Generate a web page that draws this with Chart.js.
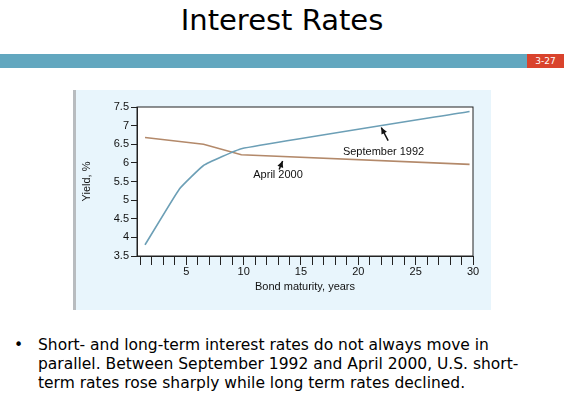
<!DOCTYPE html>
<html><head><meta charset="utf-8">
<script src="https://cdn.jsdelivr.net/npm/chart.js@4"></script>
<style>
body{margin:0;width:564px;height:406px;background:#fff;position:relative;overflow:hidden;font-family:"DejaVu Sans",sans-serif}
#title{position:absolute;top:3px;left:0;width:564px;text-align:center;font-size:29px;color:#000}
#bar{position:absolute;top:54px;left:0;width:527px;height:14px;background:#62a7bf}
#num{position:absolute;top:54px;left:527px;width:37px;height:14px;background:#d9432c;color:#fff;font-size:9px;text-align:center;line-height:14px}
#panel{position:absolute;left:73px;top:90px;width:415px;height:220px;background:#e8f5fc;border-left:3px solid #b8bcbf}
#bullet{position:absolute;left:14px;top:336px;width:530px;font-size:15.5px;line-height:19px;color:#000}
#bullet span{position:absolute;left:0}
#bullet div{margin-left:24px}
</style></head><body>
<div id="title">Interest Rates</div>
<div id="bar"></div><div id="num">3-27</div>
<div id="panel"><canvas id="c" width="415" height="220"></canvas></div>
<div id="bullet"><span>•</span><div>Short- and long-term interest rates do not always move in parallel. Between September 1992 and April 2000, U.S. short-term rates rose sharply while long term rates declined.</div></div>
<script>
var maturity = [1.4, 4.4, 6.5, 9.8, 29.7];
var sep1992 = [3.8, 5.3, 5.93, 6.38, 7.38];
var aprMaturity = [1.4, 6.5, 9.8, 29.7];
var apr2000 = [6.68, 6.5, 6.22, 5.96];
var xTickLabels = [5, 10, 15, 20, 25, 30];

var notes = [
  {text: "September 1992", tx: 22.2, ty: 6.3, from: [22.6, 6.6], to: [22.0, 6.95]},
  {text: "April 2000", tx: 13.0, ty: 5.67, from: [13.1, 5.82], to: [13.4, 6.05]}
];

var annotate = {
  id: "annotate",
  afterDatasetsDraw: function (chart) {
    var ctx = chart.ctx, xs = chart.scales.x, ys = chart.scales.y;
    ctx.save();
    ctx.fillStyle = "#111"; ctx.strokeStyle = "#111";
    ctx.font = "11px 'Liberation Sans', Arial";
    ctx.textAlign = "center"; ctx.textBaseline = "middle";
    notes.forEach(function (n) {
      ctx.fillText(n.text, xs.getPixelForValue(n.tx), ys.getPixelForValue(n.ty));
      var x1 = xs.getPixelForValue(n.from[0]), y1 = ys.getPixelForValue(n.from[1]);
      var x2 = xs.getPixelForValue(n.to[0]), y2 = ys.getPixelForValue(n.to[1]);
      ctx.lineWidth = 1.5;
      ctx.beginPath(); ctx.moveTo(x1, y1); ctx.lineTo(x2, y2); ctx.stroke();
      var a = Math.atan2(y2 - y1, x2 - x1);
      ctx.beginPath();
      ctx.moveTo(x2, y2);
      ctx.lineTo(x2 - 7 * Math.cos(a - 0.45), y2 - 7 * Math.sin(a - 0.45));
      ctx.lineTo(x2 - 7 * Math.cos(a + 0.45), y2 - 7 * Math.sin(a + 0.45));
      ctx.closePath(); ctx.fill();
    });
    var ca = chart.chartArea;
    ctx.lineWidth = 1; ctx.strokeStyle = "#222";
    ctx.strokeRect(ca.left, ca.top, ca.right - ca.left, ca.bottom - ca.top);
    ctx.restore();
  },
  beforeDraw: function (chart) {
    var ca = chart.chartArea, ctx = chart.ctx;
    ctx.save(); ctx.fillStyle = "#fff";
    ctx.fillRect(ca.left, ca.top, ca.right - ca.left, ca.bottom - ca.top);
    ctx.restore();
  }
};

var tickFont = {family: "'Liberation Sans', Arial", size: 11};

new Chart(document.getElementById("c"), {
  type: "line",
  data: {
    datasets: [
      {label: "September 1992", data: maturity.map(function (m, i) { return {x: m, y: sep1992[i]}; }),
       borderColor: "#6c9fb6", borderWidth: 1.6, pointRadius: 0, tension: 0.1},
      {label: "April 2000", data: aprMaturity.map(function (m, i) { return {x: m, y: apr2000[i]}; }),
       borderColor: "#b3896a", borderWidth: 1.6, pointRadius: 0, tension: 0}
    ]
  },
  options: {
    responsive: false, animation: false,
    layout: {padding: {top: 17, right: 18, bottom: 12}},
    plugins: {legend: {display: false}, tooltip: {enabled: false}},
    scales: {
      x: {
        type: "linear", min: 0.7, max: 30,
        afterFit: function (s) { s.height = 42; },
        afterBuildTicks: function (s) {
          var t = [];
          for (var v = 1; v <= 30; v++) t.push({value: v});
          s.ticks = t;
        },
        grid: {drawOnChartArea: false, color: "#222", tickLength: 9, drawTicks: true},
        border: {color: "#222"},
        ticks: {color: "#111", font: tickFont, maxRotation: 0, autoSkip: false, padding: 0,
          callback: function (v) { return xTickLabels.indexOf(v) >= 0 ? v : ""; }},
        title: {display: true, text: "Bond maturity, years", color: "#111", font: tickFont, padding: {top: 2}}
      },
      y: {
        min: 3.5, max: 7.5,
        afterFit: function (s) { s.width = 61; },
        grid: {drawOnChartArea: false, color: "#222", tickLength: 6},
        border: {color: "#222"},
        ticks: {stepSize: 0.5, color: "#111", font: tickFont, padding: 2,
          callback: function (v) { return String(v); }},
        title: {display: true, text: "Yield, %", color: "#111", font: tickFont, padding: {bottom: 2}}
      }
    }
  },
  plugins: [annotate]
});
</script>
</body></html>
